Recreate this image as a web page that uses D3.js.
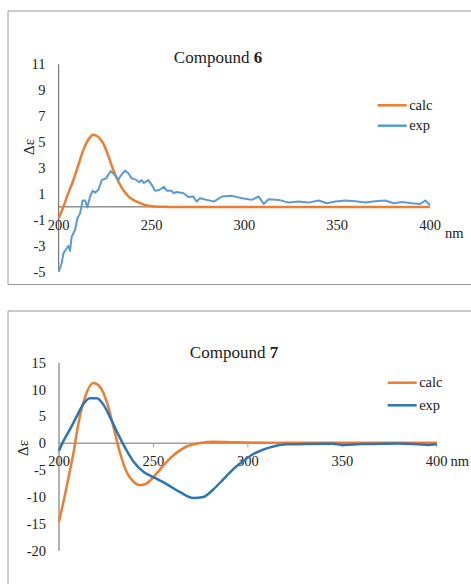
<!DOCTYPE html>
<html>
<head>
<meta charset="utf-8">
<script src="https://cdn.jsdelivr.net/npm/d3@7"></script>
<style>
  html, body { margin: 0; padding: 0; background: #fff; }
  svg { display: block; font-family: "Liberation Serif", "Times New Roman", serif; }
  text { font-family: "Liberation Serif", "Times New Roman", serif; fill: #222; }
</style>
</head>
<body>
<svg id="chart" width="471" height="584"></svg>
<script>
// Compound 6 — calculated ECD
const c6CalcNm  = [200, 202.5, 205, 207.9, 210.5, 213.3, 216, 218.6, 221.3, 224, 226.7, 229.4, 232, 234.8, 238, 242, 245.5, 249, 255, 265, 400];
const c6CalcVal = [-0.88, 0.0, 1.0, 2.07, 3.2, 4.4, 5.2, 5.57, 5.4, 4.9, 3.95, 2.85, 2.0, 1.3, 0.75, 0.4, 0.2, 0.07, 0.02, 0.0, 0.0];

// Compound 6 — experimental ECD
const c6ExpNm = [200, 201, 201.6, 202.5, 203.3, 204.3, 205.2, 206.1, 207, 208, 208.8, 210, 211.5, 212.9, 214.2, 215.4,
  216.9, 218.3, 219.6, 221.3, 223.2, 225.5, 228, 230.3, 232.1, 233.4, 235.7, 237.5, 239.3, 241.6, 243.4, 244.7,
  245.9, 248.3, 250.1, 251.9, 254.2, 256.7, 258.2, 260.9, 261.8, 263.6, 267.2, 269.8, 272.5, 274.3, 276.1, 279.7,
  283.6, 287.9, 293.3, 298.7, 304, 307.7, 310.4, 313.1, 318.5, 323.9, 329.2, 334.6, 340, 344.5, 349, 354.4,
  359.8, 365.2, 370.5, 375.9, 380.4, 384.9, 390.3, 394.8, 397.5, 400];
const c6ExpVal = [-5.0, -4.6, -4.35, -3.6, -3.4, -3.2, -3.0, -3.4, -2.3, -2.0, -1.8, -0.9, -0.5, 0.5, 0.5, -0.05,
  0.8, 1.25, 1.1, 1.3, 2.07, 2.2, 2.77, 2.46, 2.07, 2.4, 2.8, 2.6, 2.2, 2.1, 1.9, 2.07,
  1.84, 2.07, 1.7, 1.25, 1.3, 1.55, 1.25, 1.25, 1.05, 1.15, 1.05, 0.77, 0.8, 0.41, 0.67, 0.54,
  0.41, 0.8, 0.85, 0.67, 0.54, 0.8, 0.23, 0.59, 0.54, 0.33, 0.41, 0.33, 0.49, 0.28, 0.41, 0.49,
  0.44, 0.33, 0.44, 0.49, 0.28, 0.38, 0.28, 0.23, 0.49, 0.13];

// Compound 7 — calculated ECD
const c7CalcNm  = [200, 202.3, 204.9, 207.6, 210.2, 213.8, 218.2, 221.7, 225.3, 228.8, 231.4, 235, 239.4, 242.9, 246.5, 251.7, 258.8, 267.6, 274.7, 281.8, 292.3, 310, 350, 400];
const c7CalcVal = [-14.5, -11.0, -6.6, -1.9, 3.5, 8.6, 11.2, 10.5, 7.7, 3.1, -0.6, -4.7, -7.15, -7.8, -7.45, -5.6, -2.8, -0.6, 0.05, 0.3, 0.2, 0.1, 0.1, 0.1];

// Compound 7 — experimental ECD
const c7ExpNm  = [200, 202.3, 205.8, 209.4, 212.9, 216.4, 220, 223.5, 227, 231.4, 235.9, 239.4, 244.7, 250, 257, 264.1, 271.1, 276.4, 281.7, 287, 292.3, 297.6, 302.9, 306.5, 310, 313.5, 320.6, 330, 345, 350, 360, 370, 380, 390, 395, 400];
const c7ExpVal = [-1.4, 0.4, 2.6, 5.0, 7.3, 8.4, 8.4, 7.2, 4.9, 1.6, -1.4, -3.4, -5.3, -6.3, -7.6, -9.1, -10.2, -10.0, -8.6, -6.7, -4.8, -3.3, -2.0, -1.4, -0.95, -0.6, -0.2, -0.15, -0.1, -0.3, -0.15, -0.1, -0.05, -0.2, -0.3, -0.2];

const xTicks = [200, 250, 300, 350, 400];
const c6YTicks = [-5, -3, -1, 1, 3, 5, 7, 9, 11];
const c7YTicks = [-20, -15, -10, -5, 0, 5, 10, 15];
const seriesNames = ["calc", "exp"];

const svg = d3.select("#chart");
const ORANGE = "#ED7D31";
const FONT = '"Liberation Serif", "Times New Roman", serif';

function zip(xs, ys) { return xs.map((x, i) => ({ x, y: ys[i] })); }

function panel(cfg) {
  const g = svg.append("g").attr("font-family", FONT);
  // frame
  g.append("path")
    .attr("d", `M${cfg.frame.x2},${cfg.frame.y1} H${cfg.frame.x1} V${cfg.frame.y2}` + (cfg.frame.bottom ? ` H${cfg.frame.x2}` : ""))
    .attr("fill", "none").attr("stroke", "#9a9a9a").attr("stroke-width", 1);

  const x = d3.scaleLinear().domain([200, 400]).range(cfg.xr);
  const y = d3.scaleLinear().domain(cfg.yd).range(cfg.yr);

  // y axis line
  g.append("line").attr("x1", x(200)).attr("x2", x(200))
    .attr("y1", y(cfg.yd[1])).attr("y2", y(cfg.yd[0]))
    .attr("stroke", cfg.axisColor).attr("stroke-width", cfg.axisWidth);
  // zero line
  g.append("line").attr("x1", x(200)).attr("x2", x(400))
    .attr("y1", y(0)).attr("y2", y(0))
    .attr("stroke", cfg.axisColor).attr("stroke-width", cfg.axisWidth);

  if (cfg.xTickMarks) {
    g.selectAll(".xt").data(xTicks.slice(1)).enter().append("line")
      .attr("x1", d => x(d)).attr("x2", d => x(d))
      .attr("y1", y(0)).attr("y2", y(0) + 4)
      .attr("stroke", cfg.axisColor).attr("stroke-width", 1);
  }

  // y tick labels
  g.selectAll(".yl").data(cfg.yTicks).enter().append("text")
    .attr("x", cfg.yLabelX).attr("y", d => y(d))
    .attr("dy", "0.35em").attr("text-anchor", "end")
    .style("font-size", "14.5px").text(d => d);

  // x tick labels
  g.selectAll(".xl").data(xTicks).enter().append("text")
    .attr("x", d => x(d)).attr("y", y(0) + 18)
    .attr("dy", "0.35em").attr("text-anchor", "middle")
    .style("font-size", "14.5px").text(d => d);

  // unit
  g.append("text").attr("x", cfg.nm[0]).attr("y", cfg.nm[1])
    .attr("dy", "0.35em").style("font-size", "14.5px").text("nm");

  // y title
  g.append("text")
    .attr("transform", `translate(${cfg.yTitle[0]},${cfg.yTitle[1]}) rotate(-90)`)
    .attr("text-anchor", "middle").attr("dy", "0.35em")
    .style("font-size", "15px").text("Δε");

  // chart title
  const t = g.append("text").attr("x", cfg.title[0]).attr("y", cfg.title[1])
    .attr("dy", "0.35em").attr("text-anchor", "middle").style("font-size", "17px");
  t.append("tspan").text("Compound ");
  t.append("tspan").style("font-weight", "bold").text(cfg.num);

  // series
  const smooth = d3.line().x(d => x(d.x)).y(d => y(d.y)).curve(d3.curveMonotoneX);
  const jagged = d3.line().x(d => x(d.x)).y(d => y(d.y));
  g.append("path").datum(zip(cfg.calc[0], cfg.calc[1]))
    .attr("d", smooth).attr("fill", "none").attr("stroke", ORANGE)
    .attr("stroke-width", 2.5).attr("stroke-linejoin", "round");
  g.append("path").datum(zip(cfg.exp[0], cfg.exp[1]))
    .attr("d", cfg.expJagged ? jagged : smooth).attr("fill", "none").attr("stroke", cfg.expColor)
    .attr("stroke-width", cfg.expWidth).attr("stroke-linejoin", "round");

  // legend
  const colors = [ORANGE, cfg.expColor];
  seriesNames.forEach((name, i) => {
    const ly = cfg.legend[1] + i * cfg.legend[2];
    g.append("line").attr("x1", cfg.legend[0]).attr("x2", cfg.legend[0] + 29)
      .attr("y1", ly).attr("y2", ly)
      .attr("stroke", colors[i]).attr("stroke-width", 2.5);
    g.append("text").attr("x", cfg.legend[0] + 31.5).attr("y", ly)
      .attr("dy", "0.3em").style("font-size", "14.5px").text(name);
  });
}

panel({
  frame: { x1: 8, y1: 11, x2: 480, y2: 284.5, bottom: true },
  xr: [58.7, 430], yd: [-5, 11], yr: [271.7, 64.3],
  yTicks: c6YTicks, yLabelX: 45.5,
  axisColor: "#5a5a5a", axisWidth: 1, xTickMarks: false,
  nm: [445, 233], yTitle: [29, 147], title: [218, 57], num: "6",
  calc: [c6CalcNm, c6CalcVal], exp: [c6ExpNm, c6ExpVal],
  expColor: "#5B9BD5", expWidth: 2, expJagged: true,
  legend: [377.7, 105.3, 20.4]
});

panel({
  frame: { x1: 8, y1: 311, x2: 480, y2: 600, bottom: false },
  xr: [59, 436.7], yd: [-20, 15], yr: [550.7, 362.7],
  yTicks: c7YTicks, yLabelX: 46,
  axisColor: "#a0a0a0", axisWidth: 1.6, xTickMarks: true,
  nm: [450.5, 461], yTitle: [23, 448], title: [234, 352.5], num: "7",
  calc: [c7CalcNm, c7CalcVal], exp: [c7ExpNm, c7ExpVal],
  expColor: "#2E75B6", expWidth: 2.5, expJagged: false,
  legend: [387.7, 382.7, 22.6]
});
</script>
</body>
</html>
